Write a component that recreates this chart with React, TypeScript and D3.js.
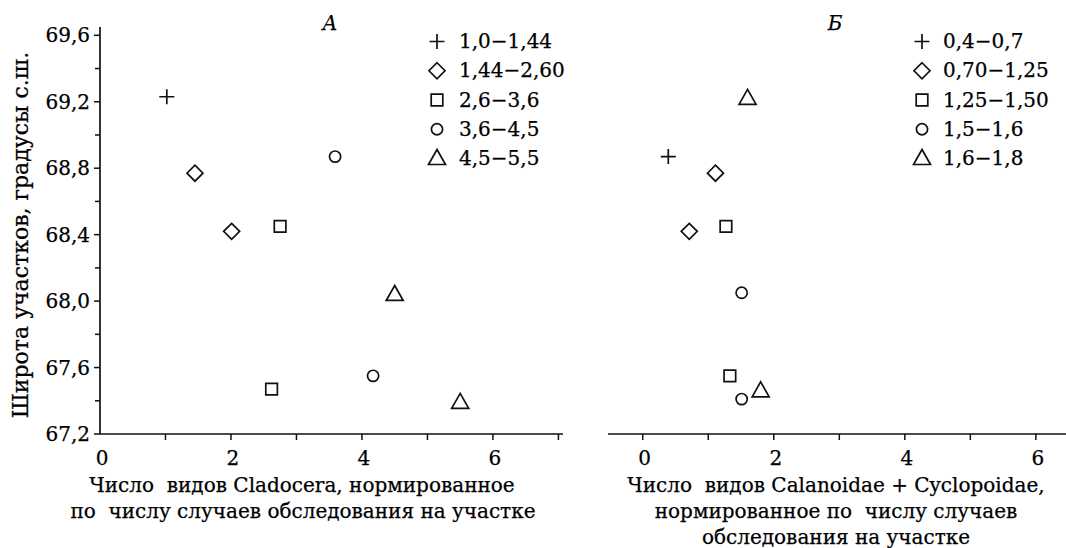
import React from "react";
import * as d3 from "d3";

// Panel A (Cladocera)
const seriesA_labels = ["1,0−1,44", "1,44−2,60", "2,6−3,6", "3,6−4,5", "4,5−5,5"];
const seriesA_x = [[1.02], [1.45, 2.01], [2.75, 2.62], [3.59, 4.17], [4.5, 5.5]];
const seriesA_y = [[69.23], [68.77, 68.42], [68.45, 67.47], [68.87, 67.55], [68.04, 67.39]];

// Panel Б (Calanoidae + Cyclopoidae)
const seriesB_labels = ["0,4−0,7", "0,70−1,25", "1,25−1,50", "1,5−1,6", "1,6−1,8"];
const seriesB_x = [[0.39], [1.11, 0.71], [1.27, 1.33], [1.51, 1.51], [1.6, 1.8]];
const seriesB_y = [[68.87], [68.77, 68.42], [68.45, 67.55], [68.05, 67.41], [69.22, 67.46]];

const yTicks = [67.2, 67.6, 68.0, 68.4, 68.8, 69.2, 69.6];
const yMinor = [67.4, 67.8, 68.2, 68.6, 69.0, 69.4];
const xTicksA = [0, 1, 2, 3, 4, 5, 6, 7];
const xTicksB = [0, 1, 2, 3, 4, 5, 6];
const xLabelsShown = [0, 2, 4, 6];

const FONT = "DejaVu Serif, serif";
const FS = 20;
const textStyle = { fontFamily: FONT, fontSize: FS, fill: "#000", stroke: "#000", strokeWidth: 0.25 };

const yScale = d3.scaleLinear().domain([67.2, 69.65]).range([434, 27]);
const xA = d3.scaleLinear().domain([0, 7.07]).range([100, 563]);
const xB = d3.scaleLinear().domain([-0.53, 6.46]).range([608, 1066]);

const markerPaths = [
  "M-7.5,0H7.5M0,-7.5V7.5",
  "M0,-8L8,0L0,8L-8,0Z",
  "M-5.8,-5.8H5.8V5.8H-5.8Z",
  "",
  "M0,-9L8.5,6L-8.5,6Z",
];

function Marker({ i, x, y }: { i: number; x: number; y: number }) {
  const common = { fill: "none", stroke: "#111", strokeWidth: 1.7 };
  if (i === 3) return <circle cx={x} cy={y} r={5.6} {...common} />;
  return <path d={markerPaths[i]} transform={`translate(${x},${y})`} {...common} />;
}

function fmt(v: number) {
  return v.toFixed(1).replace(".", ",");
}

function Legend({ labels, mx, tx }: { labels: string[]; mx: number; tx: number }) {
  return (
    <g>
      {labels.map((l, i) => {
        const base = 48 + i * 29.25;
        return (
          <g key={i}>
            <Marker i={i} x={mx} y={base - 6.5} />
            <text x={tx} y={base} style={textStyle}>
              {l}
            </text>
          </g>
        );
      })}
    </g>
  );
}

export default function App() {
  const axisY = yScale(67.2);
  return (
    <svg
      width={1066}
      height={548}
      style={{ position: "absolute", left: 0, top: 0, background: "#fff" }}
    >
      <rect width={1066} height={548} fill="#fff" />
      {/* Panel A axes */}
      <line x1={xA(0)} x2={xA(0)} y1={yScale(69.65)} y2={axisY} stroke="#111" strokeWidth={1.7} />
      <line x1={xA(0)} x2={xA(7.07)} y1={axisY} y2={axisY} stroke="#111" strokeWidth={1.7} />
      {yTicks.map((t) => (
        <g key={"yt" + t}>
          <line x1={xA(0) - 6} x2={xA(0)} y1={yScale(t)} y2={yScale(t)} stroke="#111" strokeWidth={1.5} />
          <text x={xA(0) - 10} y={yScale(t) + 7} textAnchor="end" style={textStyle}>
            {fmt(t)}
          </text>
        </g>
      ))}
      {yMinor.map((t) => (
        <line key={"ym" + t} x1={xA(0) - 5} x2={xA(0)} y1={yScale(t)} y2={yScale(t)} stroke="#111" strokeWidth={1.5} />
      ))}
      {xTicksA.map((t) => (
        <g key={"xa" + t}>
          {t > 0 && <line x1={xA(t)} x2={xA(t)} y1={axisY} y2={axisY + 6} stroke="#111" strokeWidth={1.5} />}
          {xLabelsShown.includes(t) && (
            <text x={xA(t) + 2} y={465} textAnchor="middle" style={textStyle}>
              {t}
            </text>
          )}
        </g>
      ))}
      <text x={330} y={30} textAnchor="middle" style={textStyle} fontStyle="italic">
        A
      </text>
      <text
        transform={`translate(28,235) rotate(-90)`}
        textAnchor="middle"
        style={{ ...textStyle, fontSize: 22 }}
      >
        Широта участков, градусы с.ш.
      </text>
      <text x={302} y={492} textAnchor="middle" style={textStyle} xmlSpace="preserve">
        Число  видов Cladocera, нормированное
      </text>
      <text x={303} y={518} textAnchor="middle" style={textStyle} xmlSpace="preserve">
        по  числу случаев обследования на участке
      </text>
      {seriesA_x.map((xs, i) =>
        xs.map((v, j) => <Marker key={`a${i}-${j}`} i={i} x={xA(v)} y={yScale(seriesA_y[i][j])} />)
      )}
      <Legend labels={seriesA_labels} mx={437} tx={459} />

      {/* Panel Б */}
      <line x1={xB(-0.53)} x2={xB(6.46)} y1={axisY} y2={axisY} stroke="#111" strokeWidth={1.7} />
      {xTicksB.map((t) => (
        <g key={"xb" + t}>
          <line x1={xB(t)} x2={xB(t)} y1={axisY} y2={axisY + 6} stroke="#111" strokeWidth={1.5} />
          {xLabelsShown.includes(t) && (
            <text x={xB(t) + 2} y={465} textAnchor="middle" style={textStyle}>
              {t}
            </text>
          )}
        </g>
      ))}
      <text x={835} y={30} textAnchor="middle" style={textStyle} fontStyle="italic">
        Б
      </text>
      <text x={836} y={492} textAnchor="middle" style={textStyle} xmlSpace="preserve">
        Число  видов Calanoidae + Cyclopoidae,
      </text>
      <text x={836} y={518} textAnchor="middle" style={textStyle} xmlSpace="preserve">
        нормированное по  числу случаев
      </text>
      <text x={836} y={544} textAnchor="middle" style={textStyle}>
        обследования на участке
      </text>
      {seriesB_x.map((xs, i) =>
        xs.map((v, j) => <Marker key={`b${i}-${j}`} i={i} x={xB(v)} y={yScale(seriesB_y[i][j])} />)
      )}
      <Legend labels={seriesB_labels} mx={922} tx={943} />
    </svg>
  );
}
